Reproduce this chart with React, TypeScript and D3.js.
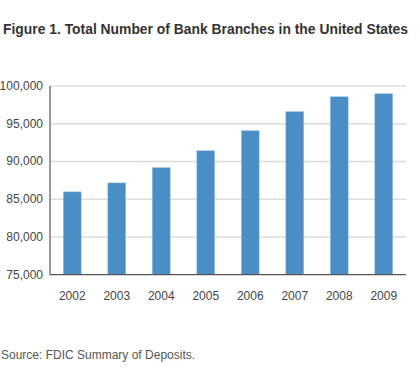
import React from "react";
import * as d3 from "d3";

const years = ["2002", "2003", "2004", "2005", "2006", "2007", "2008", "2009"];
const branches = [85970, 87160, 89170, 91420, 94070, 96590, 98570, 98970];
const yTicks = [75000, 80000, 85000, 90000, 95000, 100000];
const title = "Figure 1. Total Number of Bank Branches in the United States";
const source = "Source: FDIC Summary of Deposits.";

const W = 420;
const H = 371;
const left = 50;
const right = 406;
const top = 86;
const bottom = 274.7;

export default function App() {
  const x = d3.scaleBand<string>().domain(years).range([left, right]).paddingInner(0.6).paddingOuter(0.3);
  const y = d3.scaleLinear().domain([75000, 100000]).range([bottom, top]);
  const fmt = d3.format(",");
  const font = "'Liberation Sans', Arial, Helvetica, sans-serif";
  return (
    <svg width={W} height={H} style={{ position: "absolute", left: 0, top: 0, background: "#fff" }} fontFamily={font}>
      <text x={3} y={34} fontSize={14} fontWeight="bold" fill="#333" textLength={405} lengthAdjust="spacingAndGlyphs">{title}</text>
      {yTicks.slice(1).map((t) => (
        <line key={t} x1={left} x2={right} y1={y(t)} y2={y(t)} stroke="#dcdcdc" strokeWidth={1.5} />
      ))}
      {years.map((yr, i) => (
        <rect key={yr} x={x(yr)} y={y(branches[i])} width={x.bandwidth()} height={bottom - y(branches[i])} fill="#4a8ec6" stroke="#8fbbe0" strokeWidth={0.5} />
      ))}
      <line x1={left} x2={left} y1={top} y2={bottom} stroke="#555" strokeWidth={1.2} />
      <line x1={left} x2={right} y1={bottom} y2={bottom} stroke="#555" strokeWidth={1.2} />
      {yTicks.map((t) => (
        <text key={t} x={43} y={y(t) + 4} fontSize={12} textAnchor="end" fill="#444">{fmt(t)}</text>
      ))}
      {years.map((yr) => (
        <text key={yr} x={(x(yr) as number) + x.bandwidth() / 2} y={300} fontSize={12} textAnchor="middle" fill="#444">{yr}</text>
      ))}
      <text x={1} y={359} fontSize={12} fill="#555">{source}</text>
    </svg>
  );
}
